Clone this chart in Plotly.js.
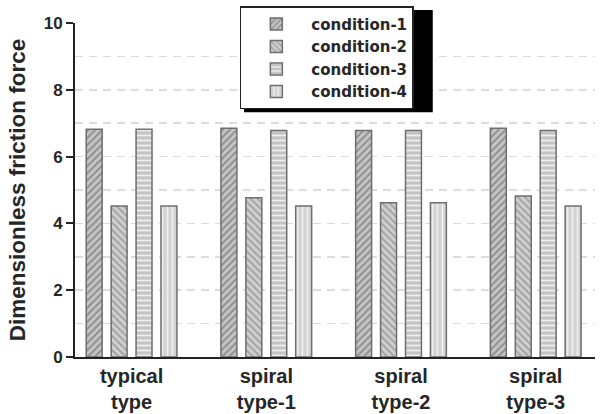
<!DOCTYPE html>
<html>
<head>
<meta charset="utf-8">
<script src="https://cdn.plot.ly/plotly-3.0.1.min.js"></script>
<style>html,body{margin:0;padding:0;background:#fff;}#chart{width:601px;height:414px;}</style>
</head>
<body>
<div id="chart"></div>
<script>
const categories = ["typical<br>type", "spiral<br>type-1", "spiral<br>type-2", "spiral<br>type-3"];
const seriesNames = ["condition-1", "condition-2", "condition-3", "condition-4"];
const condition1 = [6.82, 6.85, 6.78, 6.85];
const condition2 = [4.52, 4.77, 4.62, 4.82];
const condition3 = [6.82, 6.78, 6.78, 6.78];
const condition4 = [4.52, 4.52, 4.62, 4.52];
const yTicks = [0, 2, 4, 6, 8, 10];

const seriesValues = [condition1, condition2, condition3, condition4];
const patternShapes = ["/", "\\", "-", "|"];
const bgColors = ["#c4c4c4", "#cfcfcf", "#c4c4c4", "#d2d2d2"];
const fgColors = ["#8c8c8c", "#a0a0a0", "#f0f0f0", "#eeeeee"];

const xIdx = categories.map((c, i) => i);
const fam = "Liberation Sans, Arial, sans-serif";
const legFam = "DejaVu Sans, Liberation Sans, sans-serif";
const txt = "#262626";

const traces = seriesValues.map((vals, k) => ({
  type: "bar",
  name: seriesNames[k],
  x: xIdx,
  y: vals,
  marker: {
    color: bgColors[k],
    line: {color: "#6e6e6e", width: 1.5},
    pattern: {shape: patternShapes[k], fgcolor: fgColors[k], bgcolor: bgColors[k], size: 5, solidity: 0.35}
  },
  hoverinfo: "x+y"
}));

const layout = {
  width: 601, height: 414,
  margin: {l: 75, r: 6, t: 20, b: 57},
  paper_bgcolor: "#fff", plot_bgcolor: "#fff",
  font: {family: fam, color: txt, size: 15, weight: "bold"},
  barmode: "group",
  bargap: 0.26,
  bargroupgap: 0.36,
  showlegend: true,
  legend: {
    x: 0.317, y: 1.05, xanchor: "left", yanchor: "top",
    bgcolor: "#fff", bordercolor: "#222", borderwidth: 1.5,
    font: {family: legFam, size: 15, color: txt, weight: "bold"},
    tracegroupgap: 0, itemwidth: 60
  },
  shapes: [
    {type: "rect", xref: "paper", yref: "paper", layer: "above",
     x0: 0.325, x1: 0.688, y0: 0.733, y1: 1.039,
     fillcolor: "#000", line: {width: 0}}
  ],
  xaxis: {
    range: [-0.42, 3.44],
    tickmode: "array", tickvals: xIdx, ticktext: categories,
    showline: true, linecolor: "#222", linewidth: 2,
    ticks: "", showgrid: false, zeroline: false,
    tickfont: {family: fam, size: 20, color: txt, weight: "bold"}
  },
  yaxis: {
    range: [0, 10],
    tickmode: "array", tickvals: yTicks, ticktext: yTicks.map(String),
    showline: true, linecolor: "#222", linewidth: 2,
    ticks: "outside", ticklen: 7, tickwidth: 2, tickcolor: "#222",
    showgrid: true, gridcolor: "#dcdcdc", griddash: "8px,6px", gridwidth: 1.5,
    minor: {dtick: 1, showgrid: true, gridcolor: "#dcdcdc", griddash: "8px,6px", gridwidth: 1.5},
    zeroline: false,
    tickfont: {family: fam, size: 17, color: txt, weight: "bold"},
    title: {text: "Dimensionless friction force", font: {family: fam, size: 22.5, color: txt, weight: "bold"}, standoff: 12}
  }
};

Plotly.newPlot("chart", traces, layout, {displayModeBar: false, staticPlot: true});
</script>
</body>
</html>
